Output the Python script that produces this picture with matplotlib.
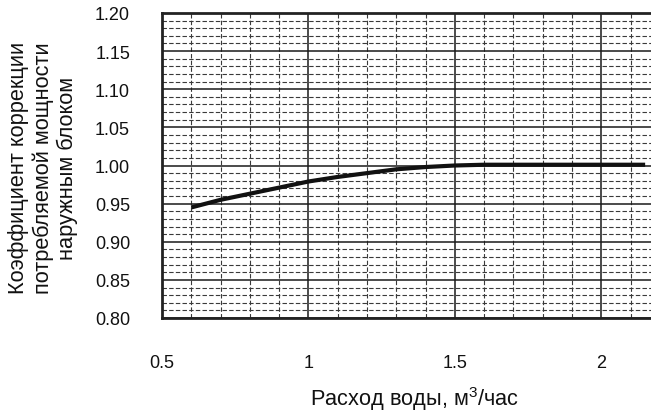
import matplotlib
matplotlib.use("Agg")
import matplotlib.pyplot as plt
import numpy as np
from matplotlib.ticker import MultipleLocator, FixedLocator, FixedFormatter

plt.rcParams['font.family'] = ['Liberation Sans', 'DejaVu Sans']
plt.rcParams['mathtext.fontset'] = 'custom'
plt.rcParams['mathtext.rm'] = 'Liberation Sans'
plt.rcParams['mathtext.default'] = 'regular'

# Data
flow = [0.6, 0.7, 0.8, 0.9, 1.0, 1.1, 1.2, 1.3, 1.4, 1.5, 1.6, 1.8, 2.0, 2.15]
coef = [0.945, 0.955, 0.963, 0.971, 0.979, 0.985, 0.990, 0.995, 0.998, 1.000, 1.001, 1.001, 1.001, 1.001]
x_ticks = [0.5, 1.0, 1.5, 2.0]
x_tick_labels = ['0.5', '1', '1.5', '2']
y_ticks = [0.80, 0.85, 0.90, 0.95, 1.00, 1.05, 1.10, 1.15, 1.20]
y_tick_labels = ['0.80', '0.85', '0.90', '0.95', '1.00', '1.05', '1.10', '1.15', '1.20']

FS = 13
LFS = 15.7

fig = plt.figure(figsize=(6.51, 4.14), dpi=100)
ax = fig.add_axes([162/651, 1-319/414, 1-162/651, (319-14)/414])

ax.set_xlim(0.5, 2.17)
ax.set_ylim(0.80, 1.20)

ax.xaxis.set_major_locator(FixedLocator(x_ticks))
ax.xaxis.set_major_formatter(FixedFormatter(x_tick_labels))
ax.yaxis.set_major_locator(FixedLocator(y_ticks))
ax.yaxis.set_major_formatter(FixedFormatter(y_tick_labels))
ax.xaxis.set_minor_locator(MultipleLocator(0.1))
ax.yaxis.set_minor_locator(MultipleLocator(0.01))

ax.grid(which='minor', color='#3a3a3a', linestyle=(0, (4, 2)), linewidth=0.8)
ax.grid(which='major', color='#1a1a1a', linestyle='-', linewidth=1.1)
ax.set_axisbelow(True)

ax.tick_params(which='both', length=0)
ax.tick_params(axis='y', pad=23, labelsize=FS, colors='#111111')
ax.tick_params(axis='x', pad=26, labelsize=FS, colors='#111111')

for s in ['top', 'left', 'bottom']:
    ax.spines[s].set_linewidth(2.0)
    ax.spines[s].set_color('#222222')
ax.spines['right'].set_visible(False)

ax.plot(flow, coef, color='#111111', linewidth=3.0, solid_capstyle='butt', zorder=5)

ax.set_ylabel('Коэффициент коррекции\nпотребляемой мощности\nнаружным блоком',
              fontsize=LFS, linespacing=1.17, color='#111111', ha='center', va='center')
ax.yaxis.set_label_coords(-0.243, 0.495)
ax.set_xlabel('Расход воды, м$^{3}$/час', fontsize=LFS, color='#111111', ha='center', va='center')
ax.xaxis.set_label_coords(0.517, -0.262)

fig.savefig('out.png', dpi=100)
